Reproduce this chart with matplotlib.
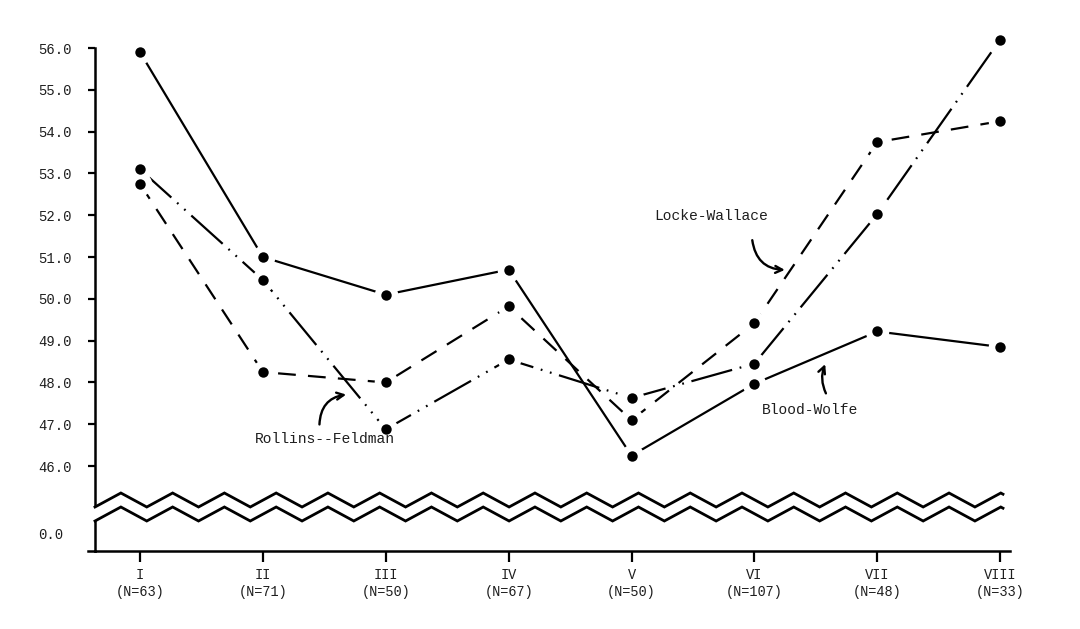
import numpy as np
import matplotlib
matplotlib.use("Agg")
import matplotlib.pyplot as plt
from matplotlib.lines import Line2D

# group labels along the x axis
groups = ["I", "II", "III", "IV", "V", "VI", "VII", "VIII"]
group_n = [63, 71, 50, 67, 50, 107, 48, 33]

# mean scores
blood_wolfe = [55.9, 51.0, 50.1, 50.7, 46.25, 47.97, 49.22, 48.85]
locke_wallace = [52.75, 48.25, 48.0, 49.82, 47.1, 49.42, 53.75, 54.25]
rollins_feldman = [53.1, 50.45, 46.88, 48.55, 47.63, 48.45, 52.03, 56.2]

y_ticks = [46, 47, 48, 49, 50, 51, 52, 53, 54, 55, 56]

W, H = 1080, 629
FONT = ["Liberation Mono", "DejaVu Sans Mono"]
INK = "#1e1e1e"

plt.rcParams["font.family"] = FONT


def fig_rect(left, top, right, bottom):
    # pixel box -> figure fraction rect
    return [left / W, 1 - bottom / H, (right - left) / W, (bottom - top) / H]


fig = plt.figure(figsize=(W / 100, H / 100), dpi=100)

ax = fig.add_axes(fig_rect(95, 48, 1010, 505))
axb = fig.add_axes(fig_rect(95, 521, 1010, 551))

x = np.arange(len(groups))
xlim = (-0.366, 7.08)

# --- main panel
ax.set_xlim(*xlim)
ax.set_ylim(45.07, 56.0)
for s in ["top", "right", "bottom"]:
    ax.spines[s].set_visible(False)
ax.spines["left"].set_linewidth(1.8)
ax.set_xticks([])
ax.set_yticks(y_ticks)
ax.set_yticklabels([f"{v:.1f}" for v in y_ticks])
ax.tick_params(axis="y", direction="out", length=5, width=1.6, pad=12,
               labelsize=10, labelcolor=INK)

series = [
    (blood_wolfe, "-"),
    (locke_wallace, (0, (8, 5.5))),
    (rollins_feldman, (0, (19, 3.5, 0.8, 3.5, 0.8, 3.5))),
]
for vals, ls in series:
    ax.plot(x, vals, color="black", lw=1.6, ls=ls, clip_on=False,
            solid_capstyle="butt", dash_capstyle="butt")
# white halo so lines stop short of the dots, like the hand-drawn original
for vals, _ in series:
    ax.plot(x, vals, "o", ms=17, color="white", mec="none", clip_on=False,
            zorder=3)
for vals, _ in series:
    ax.plot(x, vals, "o", ms=7.5, color="black", mec="none", clip_on=False,
            zorder=4)

# labels with curved arrows
arrow = dict(arrowstyle="->,head_length=0.5,head_width=0.25", lw=1.7,
             color="black")
ax.text(1.506, 46.66, "Rollins--Feldman", ha="center", va="center",
        fontsize=10.5, color=INK)
ax.annotate("", xy=(1.70, 47.72), xytext=(1.46, 46.93),
            arrowprops=dict(arrow, connectionstyle="arc3,rad=-0.45"))
ax.text(4.648, 51.98, "Locke-Wallace", ha="center", va="center",
        fontsize=10.5, color=INK)
ax.annotate("", xy=(5.27, 50.69), xytext=(4.98, 51.47),
            arrowprops=dict(arrow, connectionstyle="arc3,rad=0.45"))
ax.text(5.453, 47.34, "Blood-Wolfe", ha="center", va="center",
        fontsize=10.5, color=INK)
ax.annotate("", xy=(5.585, 48.5), xytext=(5.592, 47.68),
            arrowprops=dict(arrow, connectionstyle="arc3,rad=-0.25"))

# --- bottom strip holding the zero
axb.set_xlim(*xlim)
axb.set_ylim(-0.43, 0.29)
for s in ["top", "right"]:
    axb.spines[s].set_visible(False)
axb.spines["left"].set_linewidth(1.8)
axb.spines["bottom"].set_linewidth(1.8)
axb.set_yticks([0])
axb.set_yticklabels(["0.0"])
axb.tick_params(axis="y", length=0, pad=23, labelsize=10, labelcolor=INK)
axb.set_xticks(x)
axb.set_xticklabels([f"{g}\n(N={n})" for g, n in zip(groups, group_n)],
                    linespacing=1.3)
axb.tick_params(axis="x", direction="out", length=8, width=1.6, pad=4,
                labelsize=9.8, labelcolor=INK)

# x axis line pokes out a little left of the y axis
fig.add_artist(Line2D([88 / W, 95 / W], [1 - 551 / H, 1 - 551 / H],
                      color="black", lw=1.8))

# axis break: two parallel zigzags
half = 51.76 / 2
xs, tri = [], []
k = 0
while 95 + half * k < 1003:
    xs.append(95 + half * k)
    tri.append(k % 2)
    k += 1
# last partial rise up to the right end
frac = (1003 - xs[-1]) / half
xs.append(1003.0)
tri.append(tri[-1] + (1 - 2 * tri[-1]) * frac)
for base in (507, 521):
    ys = [base - 14 * t for t in tri]
    fig.add_artist(Line2D([v / W for v in xs], [1 - v / H for v in ys],
                          color="black", lw=2.0, solid_joinstyle="miter"))

fig.savefig("out.png", dpi=100)
